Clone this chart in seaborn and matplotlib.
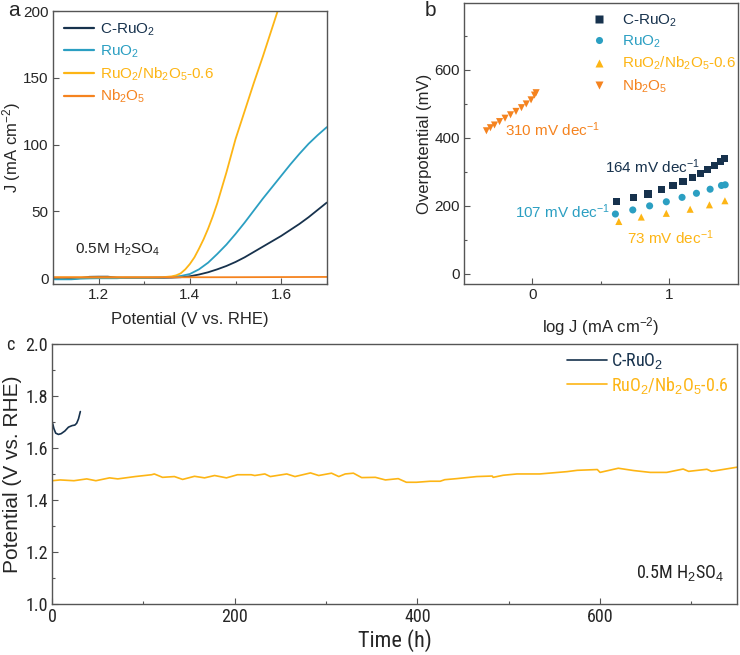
import numpy as np
import pandas as pd
import matplotlib
matplotlib.use("Agg")
import matplotlib.pyplot as plt
from matplotlib import font_manager
import seaborn as sns

# ---------------- data ----------------
# Panel a: LSV curves (potential V vs RHE, current density mA cm-2)
pot_c = [1.10, 1.12, 1.14, 1.16, 1.18, 1.20, 1.22, 1.24, 1.26, 1.28, 1.30, 1.32, 1.34, 1.36, 1.38, 1.40,
         1.42, 1.44, 1.46, 1.48, 1.50, 1.52, 1.54, 1.56, 1.58, 1.60, 1.62, 1.64, 1.66, 1.68, 1.70]
j_cruo2 = [-0.8, -0.8, -0.6, 0.0, 0.9, 1.0, 1.0, 0.3, 0.2, 0.2, 0.2, 0.2, 0.2, 0.3, 0.6, 1.3,
           2.6, 4.3, 6.5, 9.0, 12.0, 15.5, 19.5, 23.5, 27.5, 31.5, 36.0, 40.5, 45.5, 51.0, 56.5]
j_ruo2 = [-1.0, -1.0, -1.0, -0.5, -0.3, -0.2, -0.2, -0.2, 0.2, 0.2, 0.2, 0.3, 0.4, 0.8, 1.5, 3.0,
          6.5, 11.5, 18.0, 25.0, 33.0, 41.5, 50.5, 59.5, 68.0, 76.5, 85.0, 93.0, 100.5, 107.0, 113.0]
pot_y = [1.10, 1.14, 1.18, 1.22, 1.26, 1.30, 1.32, 1.34, 1.36, 1.37, 1.38, 1.39, 1.40, 1.41, 1.42,
         1.43, 1.44, 1.45, 1.46, 1.48, 1.50, 1.52, 1.54, 1.56, 1.58, 1.60]
j_ruo2nb = [0.5, 0.5, 0.5, 0.5, 0.5, 0.5, 0.5, 0.6, 1.2, 2.0, 3.5, 6.5, 10.5, 15.5, 22.0,
            29.0, 37.0, 46.0, 56.0, 79.0, 104.0, 125.0, 146.0, 166.0, 187.0, 208.0]
pot_nb = [1.10, 1.30, 1.50, 1.60, 1.70]
j_nb = [0.5, 0.5, 0.6, 0.7, 0.8]

# Panel b: Tafel data (log J, overpotential mV)
logj_cruo2 = [0.611, 0.741, 0.844, 0.946, 1.027, 1.100, 1.169, 1.225, 1.281, 1.333, 1.372, 1.401]
eta_cruo2 = [212, 224, 235, 247, 260, 272, 284, 296, 308, 320, 331, 340]
logj_ruo2 = [0.606, 0.733, 0.856, 0.978, 1.093, 1.198, 1.298, 1.381, 1.408]
eta_ruo2 = [176, 188, 200, 212, 225, 237, 249, 260, 262]
logj_ruo2nb = [0.631, 0.795, 0.978, 1.152, 1.293, 1.406]
eta_ruo2nb = [154, 167, 178, 190, 203, 215]
logj_nb = [-0.336, -0.307, -0.277, -0.240, -0.200, -0.160, -0.120, -0.080, -0.045, -0.010, 0.015, 0.027]
eta_nb = [421, 430, 438, 448, 458, 468, 478, 489, 500, 512, 526, 533]

# Panel c: chronopotentiometry (time h, potential V)
t_cruo2 = [0, 1, 2, 4, 7, 10, 14, 18, 22, 25, 27, 29, 31]
v_cruo2 = [1.700, 1.690, 1.675, 1.657, 1.652, 1.655, 1.665, 1.680, 1.686, 1.688, 1.695, 1.712, 1.740]
t_stab = [0, 9, 24, 38, 48, 63, 72, 91, 109, 112, 121, 134, 143, 156, 167, 178, 191, 203, 218, 222,
          233, 239, 257, 266, 283, 292, 306, 314, 321, 330, 339, 354, 365, 379, 388, 399, 414, 425,
          430, 443, 465, 482, 483, 494, 509, 534, 564, 575, 597, 600, 620, 637, 655, 673, 691, 697,
          717, 722, 743, 750]
v_stab = [1.474, 1.477, 1.474, 1.481, 1.474, 1.485, 1.481, 1.490, 1.497, 1.500, 1.487, 1.490, 1.479,
          1.491, 1.485, 1.494, 1.485, 1.497, 1.497, 1.494, 1.500, 1.490, 1.500, 1.490, 1.504, 1.494,
          1.503, 1.490, 1.500, 1.503, 1.486, 1.487, 1.477, 1.482, 1.468, 1.468, 1.472, 1.472, 1.478,
          1.482, 1.490, 1.492, 1.487, 1.495, 1.500, 1.500, 1.509, 1.514, 1.517, 1.506, 1.522, 1.513,
          1.506, 1.506, 1.519, 1.510, 1.518, 1.510, 1.522, 1.526]

labels = ["C-RuO$_2$", "RuO$_2$", "RuO$_2$/Nb$_2$O$_5$-0.6", "Nb$_2$O$_5$"]
colors = ["#17324d", "#2b9fc2", "#fdb515", "#f5831f"]

# ---------------- style ----------------
sns.set_theme(style="ticks")
fonts = font_manager.fontManager.ttflist
names = {f.name for f in fonts}
main_font = "Liberation Sans" if "Liberation Sans" in names else "DejaVu Sans"
narrow_font = main_font
narrow_stretch = "normal"
for cand in ["Liberation Sans Narrow", "Roboto Condensed", "Open Sans Condensed", "Noto Sans Condensed"]:
    if cand in names:
        narrow_font = cand
        break
else:
    for f in fonts:
        if f.name in ("DejaVu Sans", "Noto Sans", "Open Sans") and str(f.stretch) in ("condensed", "semi-condensed", "75", "87.5") and f.weight in (400, "normal", "regular"):
            narrow_font = f.name
            narrow_stretch = "condensed"
            break

plt.rcParams["font.family"] = [main_font, "DejaVu Sans"]
plt.rcParams["mathtext.fontset"] = "custom"
plt.rcParams["mathtext.rm"] = main_font
plt.rcParams["mathtext.it"] = main_font + ":italic"
plt.rcParams["axes.edgecolor"] = "#555555"
plt.rcParams["axes.linewidth"] = 1.0

fig = plt.figure(figsize=(7.4, 6.55), dpi=100)
ax_a = fig.add_axes([0.0716, 0.5664, 0.370, 0.4168])
ax_b = fig.add_axes([0.627, 0.5664, 0.370, 0.429])
ax_c = fig.add_axes([0.0703, 0.0779, 0.9257, 0.397])

def style_ax(ax, size=11, family=None):
    ax.tick_params(direction="in", which="major", length=4, width=0.8, color="#555555",
                   labelsize=size, pad=3)
    ax.tick_params(direction="in", which="minor", length=2, width=0.8, color="#555555")
    if family:
        for lab in ax.get_xticklabels() + ax.get_yticklabels():
            lab.set_family(family)
            lab.set_stretch(narrow_stretch)

# ---------------- panel a ----------------
df_a = pd.concat([
    pd.DataFrame({"E": pot_c, "J": j_cruo2, "s": labels[0]}),
    pd.DataFrame({"E": pot_c, "J": j_ruo2, "s": labels[1]}),
    pd.DataFrame({"E": pot_y, "J": j_ruo2nb, "s": labels[2]}),
    pd.DataFrame({"E": pot_nb, "J": j_nb, "s": labels[3]}),
])
sns.lineplot(data=df_a, x="E", y="J", hue="s", palette=dict(zip(labels, colors)),
             sort=False, estimator=None, lw=1.3, ax=ax_a, legend=True)
ax_a.set_xlim(1.1, 1.7)
ax_a.set_ylim(-4.5, 200)
ax_a.set_xticks([1.2, 1.4, 1.6])
ax_a.set_xticks([1.1, 1.3, 1.5, 1.7], minor=True)
ax_a.set_yticks([0, 50, 100, 150, 200])
ax_a.set_xlabel("Potential (V vs. RHE)", fontsize=12, labelpad=7)
ax_a.set_ylabel("J (mA cm$^{-2}$)", fontsize=12, labelpad=0)
style_ax(ax_a)
leg = ax_a.legend(loc="upper left", frameon=False, fontsize=11, handlelength=2.0,
                  handletextpad=0.4, labelspacing=0.35, borderaxespad=0.3)
for txt, c in zip(leg.get_texts(), colors):
    txt.set_color(c)
for ln in leg.get_lines():
    ln.set_linewidth(1.6)
ax_a.text(1.148, 21, "0.5M H$_2$SO$_4$", fontsize=11, va="center", ha="left", color="#222222")

# ---------------- panel b ----------------
df_b = pd.concat([
    pd.DataFrame({"x": logj_cruo2, "y": eta_cruo2, "s": labels[0]}),
    pd.DataFrame({"x": logj_ruo2, "y": eta_ruo2, "s": labels[1]}),
    pd.DataFrame({"x": logj_ruo2nb, "y": eta_ruo2nb, "s": labels[2]}),
    pd.DataFrame({"x": logj_nb, "y": eta_nb, "s": labels[3]}),
])
sns.scatterplot(data=df_b, x="x", y="y", hue="s", style="s",
                palette=dict(zip(labels, colors)),
                markers=dict(zip(labels, ["s", "o", "^", "v"])),
                s=26, edgecolor="none", ax=ax_b, legend=True)
ax_b.set_xlim(-0.5, 1.5)
ax_b.set_ylim(-30, 797)
ax_b.set_xticks([0, 1])
ax_b.set_xticks([0.5], minor=True)
ax_b.set_yticks([0, 200, 400, 600])
ax_b.set_yticks([100, 300, 500, 700], minor=True)
ax_b.set_xlabel("log J (mA cm$^{-2}$)", fontsize=12, labelpad=9)
ax_b.set_ylabel("Overpotential (mV)", fontsize=12, labelpad=2)
style_ax(ax_b)
leg = ax_b.legend(loc="upper right", frameon=False, fontsize=11, handletextpad=0.5,
                  labelspacing=0.33, bbox_to_anchor=(1.025, 1.0), borderaxespad=0.2)
for txt, c in zip(leg.get_texts(), colors):
    txt.set_color(c)
ax_b.text(-0.20, 424, "310 mV dec$^{-1}$", fontsize=11, color=colors[3], va="center")
ax_b.text(0.53, 315, "164 mV dec$^{-1}$", fontsize=11, color=colors[0], va="center")
ax_b.text(-0.13, 182, "107 mV dec$^{-1}$", fontsize=11, color=colors[1], va="center")
ax_b.text(0.69, 106, "73 mV dec$^{-1}$", fontsize=11, color=colors[2], va="center")

# ---------------- panel c ----------------
df_c = pd.concat([
    pd.DataFrame({"t": t_cruo2, "V": v_cruo2, "s": labels[0]}),
    pd.DataFrame({"t": t_stab, "V": v_stab, "s": labels[2]}),
])
sns.lineplot(data=df_c, x="t", y="V", hue="s",
             palette={labels[0]: colors[0], labels[2]: colors[2]},
             sort=False, estimator=None, lw=1.2, ax=ax_c, legend=True)
ax_c.set_xlim(0, 750)
ax_c.set_ylim(1.0, 2.0)
ax_c.set_xticks([0, 200, 400, 600])
ax_c.set_xticks([100, 300, 500, 700], minor=True)
ax_c.set_yticks([1.0, 1.2, 1.4, 1.6, 1.8, 2.0])
ax_c.set_yticks([1.1, 1.3, 1.5, 1.7, 1.9], minor=True)
ax_c.set_xlabel("Time (h)", fontsize=16, family=narrow_font, fontstretch=narrow_stretch, labelpad=2)
ax_c.set_ylabel("Potential (V vs. RHE)", fontsize=15, labelpad=2)
style_ax(ax_c, size=13, family=narrow_font)
leg = ax_c.legend(loc="upper right", frameon=False, handlelength=2.2, handletextpad=0.2,
                  labelspacing=0.2, borderaxespad=0.0, bbox_to_anchor=(0.998, 1.0),
                  prop={"family": narrow_font, "size": 13, "stretch": narrow_stretch})
for txt, c in zip(leg.get_texts(), [colors[0], colors[2]]):
    txt.set_color(c)
ax_c.text(736, 1.12, "0.5M H$_2$SO$_4$", fontsize=13, family=narrow_font, fontstretch=narrow_stretch,
          ha="right", va="center", color="#222222")

# panel letters
fig.text(0.011, 0.984, "a", fontsize=15, va="center", ha="left")
fig.text(0.574, 0.984, "b", fontsize=15, va="center", ha="left")
fig.text(0.008, 0.473, "c", fontsize=13, va="center", ha="left", family=narrow_font,
         fontstretch=narrow_stretch)

fig.savefig("out.png", dpi=100)
